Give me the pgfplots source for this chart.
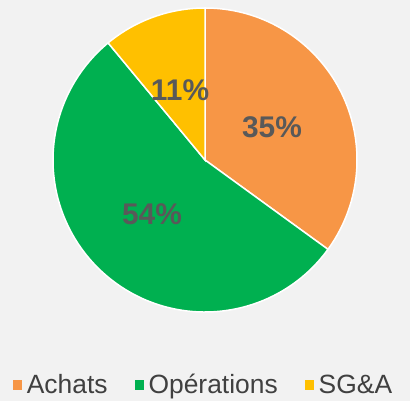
\documentclass[border=0pt]{standalone}
\usepackage{fontspec}
\setmainfont{Liberation Sans}
\usepackage{pgfplots}
\pgfplotsset{compat=1.18}
\definecolor{cA}{HTML}{F79646}
\definecolor{cO}{HTML}{00B050}
\definecolor{cS}{HTML}{FFC000}
\definecolor{bg}{HTML}{F2F2F2}
\definecolor{lbl}{HTML}{595959}
\definecolor{leg}{HTML}{404040}
% shares in percent: Achats 35, Operations 54, SG&A 11
\begin{document}
\begin{tikzpicture}
\begin{axis}[
  x=1bp, y=1bp, xmin=0, xmax=410, ymin=0, ymax=401,
  hide axis, clip=false,
  legend columns=3,
  legend style={at={(axis cs:205,16)}, anchor=center, draw=none, fill=none,
    font=\fontsize{26.5}{28}\selectfont, text=leg,
    /tikz/every even column/.append style={column sep=22bp},
    nodes={inner xsep=5bp}},
  legend image code/.code={\fill[#1, draw=none] (0bp,-4.5bp) rectangle (9bp,4.5bp);},
]
\fill[bg] (axis cs:0,0) rectangle (axis cs:410,401);
% slices, clockwise from 12 o'clock
\fill[cA, draw=white, line width=1.5bp] (axis cs:205,241) -- ++(90:152bp)
  arc[start angle=90, end angle=90-35*3.6, radius=152bp] -- cycle;
\fill[cO, draw=white, line width=1.5bp] (axis cs:205,241) -- ++(90-35*3.6:152bp)
  arc[start angle=90-35*3.6, end angle=90-89*3.6, radius=152bp] -- cycle;
\fill[cS, draw=white, line width=1.5bp] (axis cs:205,241) -- ++(90-89*3.6:152bp)
  arc[start angle=90-89*3.6, end angle=-270, radius=152bp] -- cycle;
\node[font=\bfseries\fontsize{30}{30}\selectfont, text=lbl] at (axis cs:272,274) {35\%};
\node[font=\bfseries\fontsize{30}{30}\selectfont, text=lbl] at (axis cs:152,187) {54\%};
\node[font=\bfseries\fontsize{30}{30}\selectfont, text=lbl] at (axis cs:180,311) {11\%};
\addlegendimage{fill=cA}
\addlegendentry{Achats}
\addlegendimage{fill=cO}
\addlegendentry{Opérations}
\addlegendimage{fill=cS}
\addlegendentry{SG\&A}
\end{axis}
\end{tikzpicture}
\end{document}
